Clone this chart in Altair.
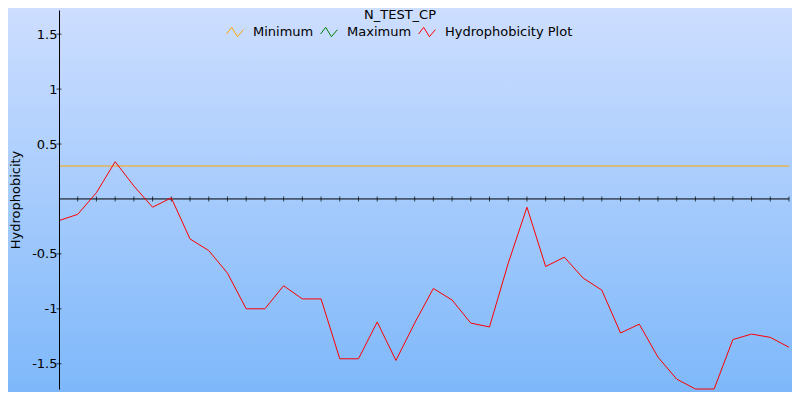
import altair as alt
import pandas as pd

# ---- data ----
positions = list(range(40))
hydro_values = [-0.197, -0.14, 0.057, 0.339, 0.118, -0.075, 0.01, -0.364, -0.47, -0.675,
                -1.0, -1.0, -0.79, -0.91, -0.91, -1.455, -1.455, -1.12, -1.47, -1.13,
                -0.815, -0.92, -1.13, -1.165, -0.585, -0.075, -0.615, -0.53, -0.72, -0.83,
                -1.22, -1.14, -1.44, -1.64, -1.73, -1.73, -1.28, -1.23, -1.26, -1.35]
minimum_value = [0.3]
series_names = ["Minimum", "Maximum", "Hydrophobicity Plot"]
series_colors = ["orange", "green", "red"]
y_tick_values = [-1.5, -1.0, -0.5, 0.5, 1.0, 1.5]
x_tick_values = list(range(1, 40))
chart_title = "N_TEST_CP"
y_title = "Hydrophobicity"

FONT = "DejaVu Sans"

line_df = pd.DataFrame({"pos": positions, "value": hydro_values,
                        "series": ["Hydrophobicity Plot"] * len(positions)})
min_df = pd.DataFrame({"value": minimum_value, "series": ["Minimum"]})
xt_df = pd.DataFrame({"pos": x_tick_values})
yt_df = pd.DataFrame({"value": y_tick_values})

W, H = 730, 379
PL, PT, PR, PB = 51, 2, 3, 3

x_scale = alt.Scale(domain=[0, 39], nice=False, zero=False)
y_scale = alt.Scale(domain=[-1.73, 1.72], nice=False, zero=False)

color_scale = alt.Scale(domain=series_names, range=series_colors)
zigzag = "M-1,0.24L-0.4,-0.56L0.29,0.56L1,-0.28"
legend = alt.Legend(
    title=None, orient="none", legendX=167, legendY=13, direction="horizontal",
    symbolType=zigzag, symbolSize=280, symbolStrokeWidth=1,
    symbolFillColor="transparent",
    labelFont=FONT, labelFontSize=13, labelColor="black",
    labelOffset=9, columnPadding=4, padding=0, zindex=2,
)

bg_gradient = alt.LinearGradient(
    gradient="linear",
    stops=[alt.GradientStop(color="#CDDEFF", offset=0),
           alt.GradientStop(color="#7EB8FA", offset=1)],
    x1=0, x2=0, y1=0, y2=1,
)
bg = alt.Chart(pd.DataFrame({"a": [0]})).mark_rect(fill=bg_gradient, stroke=None).encode(
    x=alt.value(-PL), x2=alt.value(W + PR), y=alt.value(-PT), y2=alt.value(H + PB)
)

min_rule = alt.Chart(min_df).mark_rule(strokeWidth=1).encode(
    y=alt.Y("value:Q", scale=y_scale,
            axis=alt.Axis(values=y_tick_values, ticks=False, grid=False, zindex=1,
                          domainColor="black", domainWidth=1,
                          labelFont=FONT, labelFontSize=13, labelColor="black",
                          labelPadding=2, labelExpr="toString(datum.value)",
                          title=y_title, titleFont=FONT, titleFontSize=13,
                          titleFontWeight="normal", titleColor="black",
                          titleAngle=270, titleBaseline="alphabetic",
                          titleAlign="center", titleX=-39.5, titleY=H / 2)),
    color=alt.Color("series:N", scale=color_scale, legend=legend),
)

zero_rule = alt.Chart(pd.DataFrame({"z": [0]})).mark_rule(color="black", strokeWidth=1).encode(
    y=alt.Y("z:Q", scale=y_scale)
)

x_ticks = alt.Chart(xt_df).mark_tick(orient="vertical", size=5, thickness=1, color="black").encode(
    x=alt.X("pos:Q", scale=x_scale, axis=None),
    y=alt.Y("z:Q", scale=y_scale),
).transform_calculate(z="0")

y_ticks = alt.Chart(yt_df).mark_tick(orient="horizontal", size=5, thickness=1, color="black").encode(
    y=alt.Y("value:Q", scale=y_scale),
    x=alt.X("z:Q", scale=x_scale, axis=None),
).transform_calculate(z="0")

hydro_line = alt.Chart(line_df).mark_line(strokeWidth=1).encode(
    x=alt.X("pos:Q", scale=x_scale, axis=None),
    y=alt.Y("value:Q", scale=y_scale),
    color=alt.Color("series:N", scale=color_scale, legend=legend),
)

title_text = alt.Chart(pd.DataFrame({"t": [chart_title]})).mark_text(
    font=FONT, fontSize=13, align="center", baseline="top", color="black"
).encode(text="t:N", x=alt.value(400 - 8 - PL), y=alt.value(-1.5))

chart = alt.layer(bg, min_rule, zero_rule, x_ticks, y_ticks, hydro_line, title_text).properties(
    width=W, height=H,
    autosize=alt.AutoSizeParams(type="none"),
    padding={"left": PL, "top": PT, "right": PR, "bottom": PB},
).configure_view(stroke=None).configure(background="white")

chart.save("out.html", embed_options={"renderer": "svg", "actions": False})
